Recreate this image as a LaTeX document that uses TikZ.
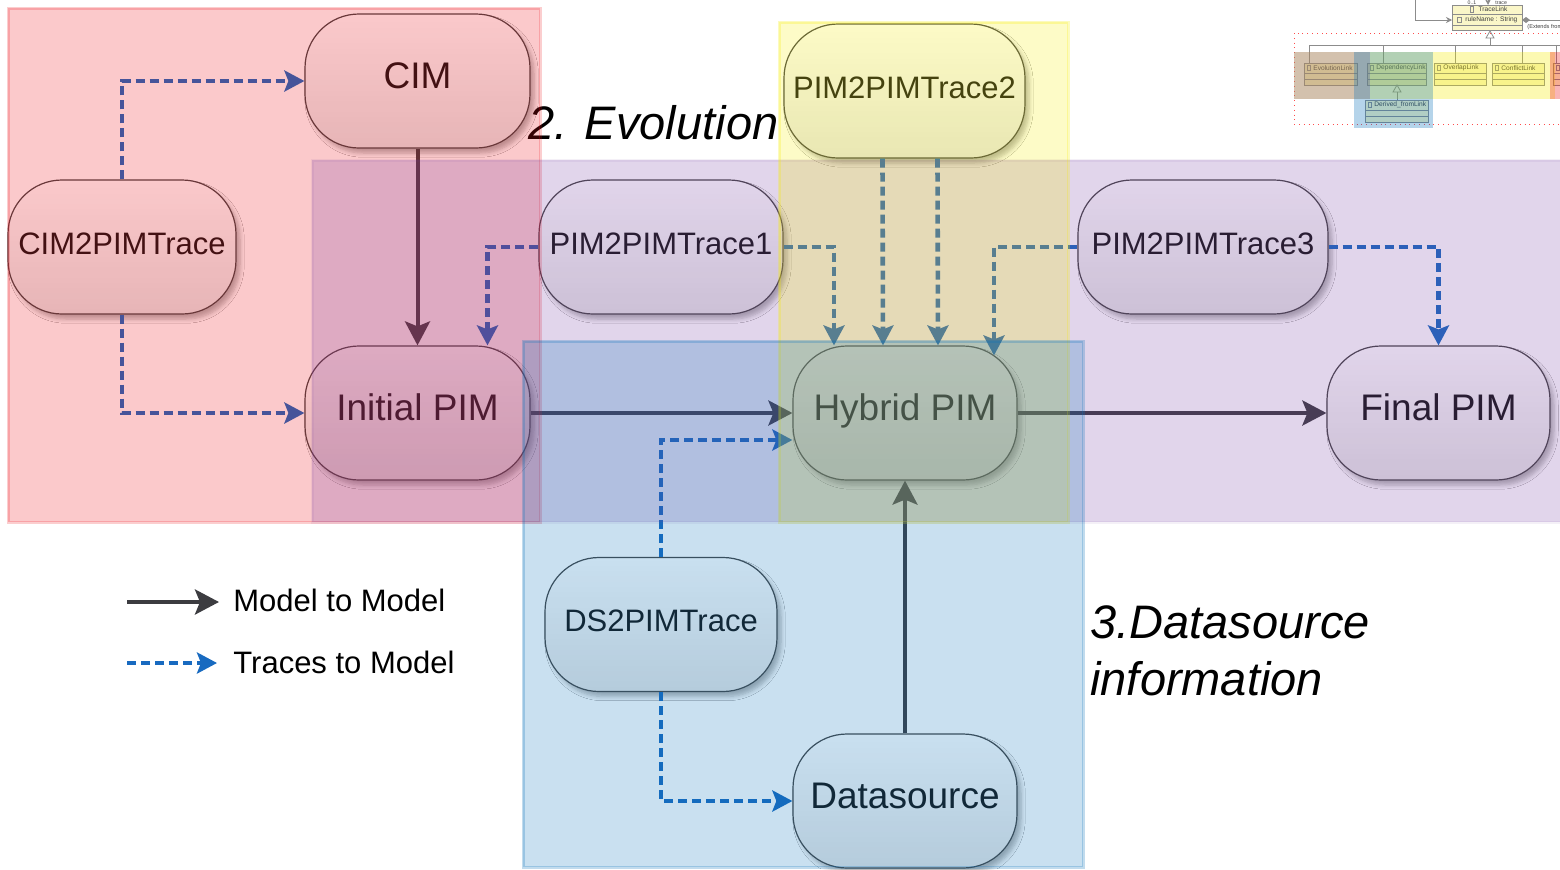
\documentclass[tikz,border=0pt]{standalone}
\usepackage{fontspec}
\setmainfont{Liberation Sans}
\usetikzlibrary{arrows.meta,shadows.blur}

% translucent zone colours
\definecolor{ovred}{RGB}{237,10,19}
\definecolor{ovpurple}{RGB}{119,64,164}
\definecolor{ovyellow}{RGB}{246,237,0}
\definecolor{ovblue}{RGB}{10,114,187}
% connector and node colours
\definecolor{modelline}{RGB}{60,60,64}
\definecolor{traceline}{RGB}{24,106,192}
\definecolor{nodeedge}{RGB}{70,70,70}
\definecolor{umlfill}{RGB}{250,246,200}

\tikzset{
  stadium/.style={draw=nodeedge, line width=0.6pt, rounded corners=27pt,
    minimum height=67pt, inner sep=0pt, top color=white, bottom color=black!10,
    text=black!92, text height=0.716em, text depth=0pt,
    blur shadow={shadow xshift=2pt, shadow yshift=-2.5pt, shadow blur steps=6, shadow opacity=30}},
  model/.style={stadium, font=\fontsize{18.5}{22}\selectfont},
  tracemodel/.style={stadium, font=\fontsize{15.5}{18}\selectfont},
  m2m/.style={draw=modelline, line width=2pt, -{Stealth[length=12pt, width=12.5pt, inset=2.5pt]}},
  t2m/.style={draw=traceline, line width=2.3pt, dash pattern=on 4.5pt off 2.5pt,
    -{Stealth[length=10pt, width=10.5pt, inset=2pt]}},
  legendtext/.style={anchor=base west, font=\fontsize{15.5}{18}\selectfont, inner sep=0pt},
  heading/.style={anchor=base west, font=\itshape\fontsize{23.5}{28}\selectfont, inner sep=0pt},
  zone/.style 2 args={fill=#1, fill opacity=0.22, draw=#1, draw opacity=#2, line width=1.5pt},
  uml/.style={draw=black!45, line width=0.3pt},
  umltext/.style={inner sep=0pt, font=\fontsize{3.3}{4}\selectfont, text=black!75},
}

\begin{document}
\begin{tikzpicture}[x=0.5pt, y=-0.5pt]
  \fill[white] (0,0) rectangle (1560,869);
  \useasboundingbox (0,0) rectangle (1560,869);

  % ---------- class diagram excerpt (top right) ----------
  \draw[uml, fill=umlfill] (1452,5) rectangle (1522,30);
  \draw[uml] (1452,14) -- (1522,14) (1452,25) -- (1522,25);
  \draw[uml, line width=0.2pt] (1470,6.5) rectangle (1473,12);
  \node[umltext] (tracelink) at (1493,9.5) {TraceLink};
  \draw[uml, line width=0.2pt] (1457,17) rectangle (1461,22);
  \node[umltext, anchor=west] (rulename) at (1465,19.5) {ruleName : String};
  \node[umltext, anchor=base, font=\fontsize{2.6}{3}\selectfont] (mult) at (1472,4.6) {0..1};
  \node[umltext, anchor=base west, font=\fontsize{2.6}{3}\selectfont] (tracerole) at (1495,4.6) {trace};
  \node[umltext, anchor=base west, font=\fontsize{2.8}{3}\selectfont] (extends) at (1527,28) {(Extends from};
  \coordinate (tlL) at (1452,20);
  \coordinate (tlR) at (1522,20);
  \coordinate (tlT) at (1488,5);
  \draw[uml, line width=0.45pt, -{Stealth[length=3pt,width=3pt]}] (1415,-4) |- (tlL);
  \draw[uml, line width=0.45pt, {Diamond[length=4pt,width=3pt]}-] (tlR) -- (1570,20);
  \draw[uml, line width=0.45pt, -{Stealth[length=3pt,width=3pt]}] (1488,-4) -- (tlT);
  % generalisation tree
  \draw[uml, line width=0.4pt] (1490,31) -- (1494,38) -- (1486,38) -- cycle;
  \draw[uml, line width=0.4pt] (1490,38) -- (1490,45) (1309,45) -- (1560,45);
  \foreach \gx in {1309,1383,1455,1522,1556}{\draw[uml, line width=0.4pt] (\gx,45) -- (\gx,63);}
  % subclasses
  \foreach \nm/\xa/\xb/\yt/\lbl in {evo/1304/1357/63/EvolutionLink, dep/1367/1426/63/DependencyLink,
      ovl/1434/1486/63/OverlapLink, cfl/1492/1544/63/ConflictLink, der/1365/1428/100/Derived\_fromLink}{
    \draw[uml, fill=umlfill] (\xa,\yt) rectangle (\xb,\yt+22);
    \draw[uml] (\xa,\yt+10) -- (\xb,\yt+10) (\xa,\yt+16) -- (\xb,\yt+16);
    \draw[uml, line width=0.2pt] (\xa+3,\yt+2.5) rectangle (\xa+6,\yt+7.5);
    \node[umltext, anchor=west] (\nm) at (\xa+9,\yt+5) {\lbl};
  }
  \draw[uml, fill=umlfill] (1553,63) rectangle (1575,85);
  \draw[uml] (1553,73) -- (1575,73) (1553,79) -- (1575,79);
  \draw[uml, line width=0.2pt] (1556,65.5) rectangle (1559,70.5);
  \draw[uml, line width=0.4pt] (1397,85) -- (1401,92) -- (1393,92) -- cycle;
  \draw[uml, line width=0.4pt] (1397,92) -- (1397,100);
  % package frame and highlight bands
  \draw[red!70, line width=0.4pt, dotted] (1294,33) rectangle (1570,124);
  \fill[ovyellow, opacity=0.3] (1294,52) rectangle (1555,99);
  \fill[ovpurple, opacity=0.3] (1294,52) rectangle (1370,99);
  \fill[ovblue, opacity=0.3] (1354,52) rectangle (1433,128);
  \fill[ovred, opacity=0.3] (1550,52) rectangle (1565,99);

  % ---------- models and trace models ----------
  \node[model, minimum width=112.5pt] (cim) at (417.5,81) {CIM};
  \node[tracemodel, minimum width=114pt] (c2p) at (122,247) {CIM2PIMTrace};
  \node[model, minimum width=112.5pt] (ipim) at (417.5,413) {Initial PIM};
  \node[tracemodel, minimum width=122pt] (t1) at (661,247) {PIM2PIMTrace1};
  \node[tracemodel, minimum width=120.5pt] (t2) at (904.5,91) {PIM2PIMTrace2};
  \node[tracemodel, minimum width=125pt] (t3) at (1203,247) {PIM2PIMTrace3};
  \node[model, minimum width=112pt] (hyb) at (905,413) {Hybrid PIM};
  \node[model, minimum width=111.5pt] (fpim) at (1438.5,413) {Final PIM};
  \node[tracemodel, minimum width=116pt] (ds2) at (661,624.5) {DS2PIMTrace};
  \node[model, minimum width=112pt] (ds) at (905,801) {Datasource};

  % ---------- model-to-model transformations ----------
  \draw[m2m] (cim.south) -- (ipim.north);
  \draw[m2m] (ipim.east) -- (hyb.west);
  \draw[m2m] (hyb.east) -- (fpim.west);
  \draw[m2m] (ds.north) -- (hyb.south);

  % ---------- traces to models ----------
  \draw[t2m] (c2p.north) |- (cim.west);
  \draw[t2m] (c2p.south) |- (ipim.west);
  \draw[t2m] (t1.west) -| ([xshift=35pt]ipim.north);
  \draw[t2m] (t1.east) -| ([xshift=-35.5pt]hyb.north);
  \draw[t2m] ([xshift=-11pt]t2.south) -- ([xshift=-11pt]hyb.north);
  \draw[t2m] ([xshift=16.5pt]t2.south) -- ([xshift=16.5pt]hyb.north);
  \draw[t2m] (t3.west) -| ([xshift=44.5pt,yshift=-5pt]hyb.north);
  \draw[t2m] (t3.east) -| (fpim.north);
  \draw[t2m] (ds2.north) |- ([yshift=-13.5pt]hyb.west);
  \draw[t2m] (ds2.south) |- (ds.west);

  % ---------- legend ----------
  \coordinate (lgA1) at (127,602);
  \coordinate (lgA2) at (219,602);
  \coordinate (lgB1) at (127,663);
  \coordinate (lgB2) at (217,663);
  \draw[m2m] (lgA1) -- (lgA2);
  \draw[t2m] (lgB1) -- (lgB2);
  \node[legendtext] (lgA) at (233,611) {Model to Model};
  \node[legendtext] (lgB) at (233,673) {Traces to Model};

  % ---------- headings ----------
  \node[heading] (evo) at (528,139) {2. Evolution};
  \node[heading] (dsinfo1) at (1090,638) {3.Datasource};
  \node[heading] (dsinfo2) at (1090,695) {information};

  % ---------- translucent zones ----------
  \path[zone={ovred}{0.2}] (8,8) rectangle (540,522);
  \path[zone={ovpurple}{0.08}] (312,160) rectangle (1575,522);
  \path[zone={ovyellow}{0.25}] (779,22) rectangle (1068,522);
  \path[zone={ovblue}{0.25}] (523,341) rectangle (1083,867);
\end{tikzpicture}
\end{document}
